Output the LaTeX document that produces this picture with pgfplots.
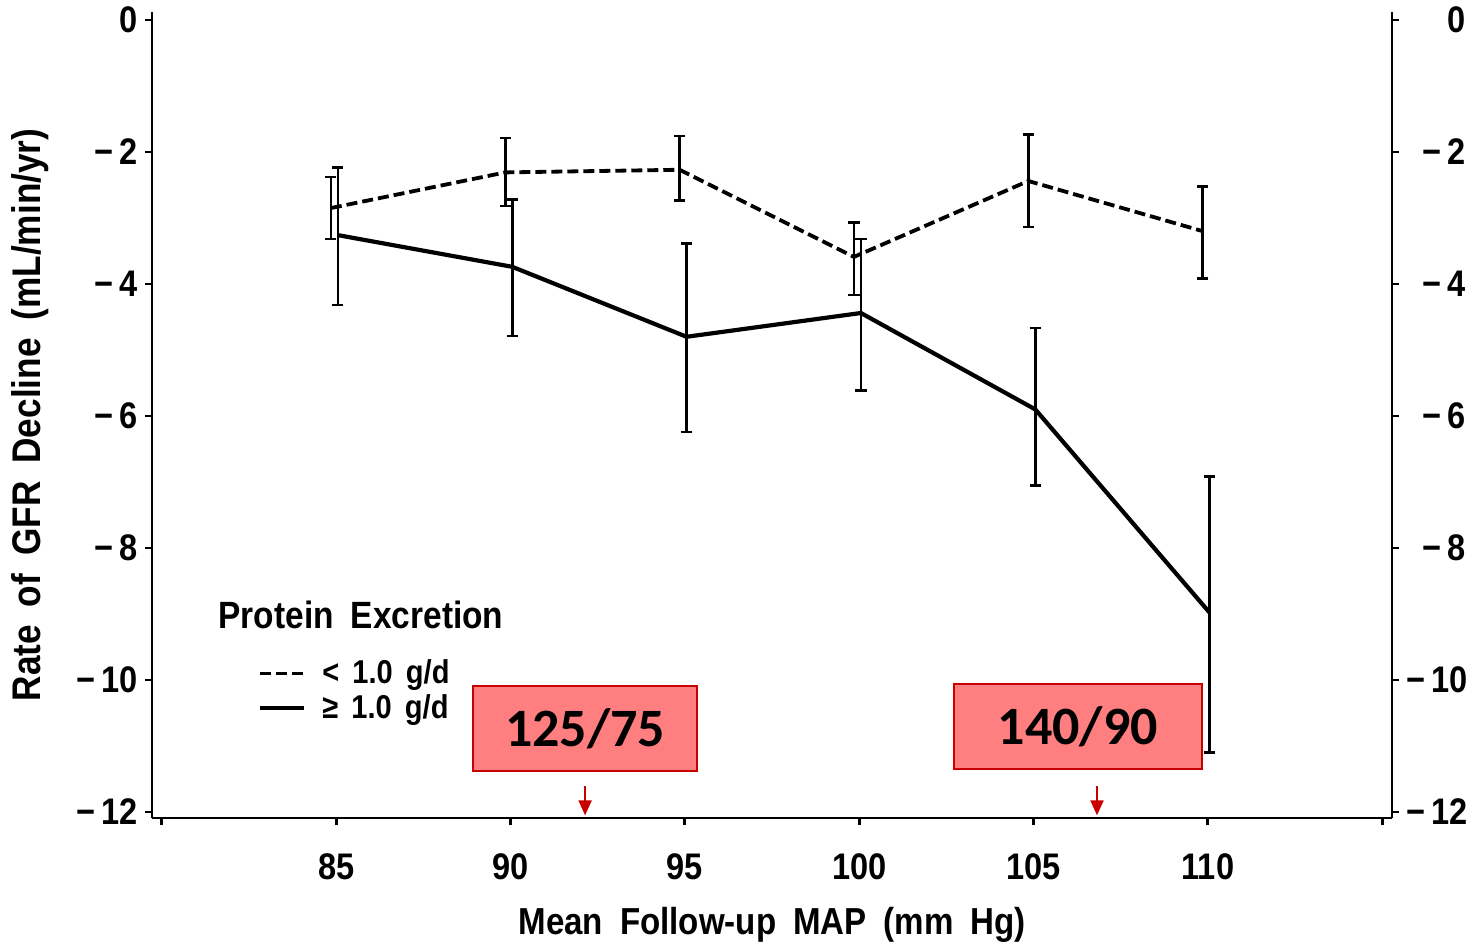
\documentclass[border=0pt]{standalone}
\usepackage{fontspec}
\setmainfont{Liberation Sans}[FakeStretch=0.88]
\newfontfamily\carlito{Carlito}
\usepackage{pgfplots}
\pgfplotsset{compat=1.18}
\usepackage{pgfplotstable}
\usetikzlibrary{arrows.meta}

\definecolor{boxfill}{RGB}{255,126,128}
\definecolor{boxedge}{RGB}{200,0,0}

% GFR decline, protein excretion < 1.0 g/d (drawn slightly left of the tick)
\pgfplotstableread{
x      y      ep    em
84.85  -2.85  0.47  0.47
89.85  -2.31  0.52  0.51
94.85  -2.27  0.51  0.47
99.85  -3.59  0.52  0.58
104.85 -2.44  0.70  0.70
109.85 -3.20  0.68  0.72
}\lowprot

% GFR decline, protein excretion >= 1.0 g/d
\pgfplotstableread{
x      y      ep    em
85.05  -3.26  1.02  1.06
90.05  -3.74  1.02  1.05
95.05  -4.80  1.41  1.44
100.05 -4.44  1.12  1.17
105.05 -5.90  1.23  1.15
110.05 -8.98  2.06  2.12
}\highprot

\pgfplotsset{
  base/.style={
    scale only axis,
    width=620pt, height=403pt,
    at={(0,0)}, anchor=south west,
    xmin=79.72, xmax=115.28,
    ymin=-12.09, ymax=0.12,
    ytick={-12,-10,-8,-6,-4,-2,0},
    yticklabels={−\,12,−\,10,−\,8,−\,6,−\,4,−\,2,0},
    tick align=outside,
    major tick length=3.5pt,
    tick style={line width=1.4pt, black},
    axis line style={-, line width=1.4pt},
    every outer x axis line/.append style={-},
    every outer y axis line/.append style={-},
    /pgf/number format/assume math mode=true,
    tick label style={font=\bfseries\fontsize{18.5}{20}\selectfont},
    clip=false,
  }
}

\begin{document}
\begin{tikzpicture}
\begin{axis}[
  base,
  axis x line*=bottom,
  axis y line*=left,
  xtick={80,85,...,115},
  xticklabels={,85,90,95,100,105,110,},
  major x tick style={line width=1.4pt},
  x tick label style={yshift=-11pt},
  xlabel={Mean\hspace{0.45em}Follow-up\hspace{0.45em}MAP\hspace{0.45em}(mm\hspace{0.45em}Hg)},
  xlabel style={font=\bfseries\fontsize{18.8}{20}\selectfont,
    at={(axis description cs:0.5,-0.1325)}, anchor=center},
  ylabel={Rate\hspace{0.45em}of\hspace{0.45em}GFR\hspace{0.45em}Decline\hspace{0.45em}(mL/min/yr)},
  ylabel style={font=\bfseries\fontsize{20}{22}\selectfont,
    at={(axis description cs:-0.0984,0.5)}, anchor=center},
  legend cell align=left,
  legend image code/.code={\draw[#1] (0pt,0pt) -- (22pt,0pt);},
  legend style={
    at={(axis cs:82.75,-9.63)}, anchor=north west,
    draw=none, fill=none,
    font=\bfseries\fontsize{16.5}{18}\selectfont,
    inner sep=0pt, row sep=0pt,
    nodes={inner sep=2pt},
    /tikz/every odd column/.append style={column sep=6pt},
  },
]
\addplot[black, line width=1.9pt, dash pattern=on 5.5pt off 2.5pt,
  error bars/.cd, y dir=both, y explicit,
  error bar style={line width=1.3pt, solid},
  error mark options={rotate=90, mark size=2.8pt, line width=1.3pt, solid}]
  table[x=x, y=y, y error plus=ep, y error minus=em] {\lowprot};
\addlegendentry{<\hspace{0.4em}1.0\hspace{0.4em}g/d}

\addplot[black, line width=2.1pt,
  error bars/.cd, y dir=both, y explicit,
  error bar style={line width=1.3pt},
  error mark options={rotate=90, mark size=2.8pt, line width=1.3pt}]
  table[x=x, y=y, y error plus=ep, y error minus=em] {\highprot};
\addlegendentry{≥\hspace{0.4em}1.0\hspace{0.4em}g/d}

% legend heading
\node[anchor=west, inner sep=0pt, font=\bfseries\fontsize{19}{21}\selectfont]
  at (axis cs:81.62,-9.02) {Protein\hspace{0.45em}Excretion};

% blood pressure targets
\node[draw=boxedge, fill=boxfill, line width=1pt, minimum width=112pt,
  minimum height=42.5pt, inner sep=0pt,
  font=\carlito\bfseries\fontsize{27}{30}\selectfont]
  at (axis cs:92.14,-10.735) {125/75};
\node[draw=boxedge, fill=boxfill, line width=1pt, minimum width=124pt,
  minimum height=42.5pt, inner sep=0pt,
  font=\carlito\bfseries\fontsize{27}{30}\selectfont]
  at (axis cs:106.27,-10.705) {140/90};
\draw[boxedge, line width=1pt, -{Triangle[width=6.5pt,length=7.5pt]}]
  (axis cs:92.14,-11.61) -- (axis cs:92.14,-12.05);
\draw[boxedge, line width=1pt, -{Triangle[width=6.5pt,length=7.5pt]}]
  (axis cs:106.82,-11.61) -- (axis cs:106.82,-12.05);
\end{axis}

% right-hand scale
\begin{axis}[
  base,
  axis x line=none,
  axis y line*=right,
  yticklabel style={text width=30pt, align=right, anchor=west},
]
\end{axis}

\pgfresetboundingbox
\path[use as bounding box] (-76pt,-62.5pt) rectangle (664.5pt,409pt);
\end{tikzpicture}
\end{document}
